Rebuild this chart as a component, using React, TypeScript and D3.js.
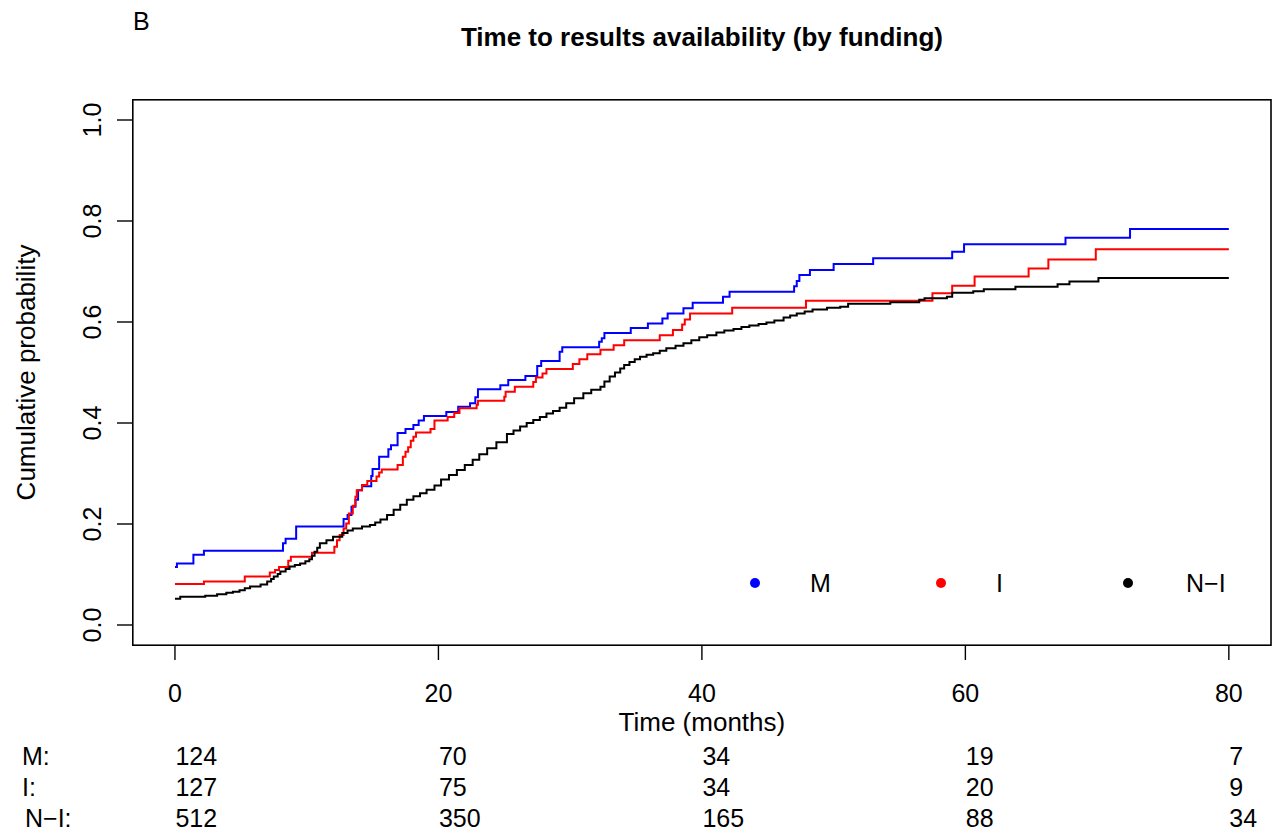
import React from 'react';
import * as d3 from 'd3';

// cumulative probability step curves
const mTimes = [0, 0.15, 1.4, 2.2, 8.2, 8.4, 9.2, 12.8, 13.1, 13.4, 13.7, 13.9, 14.2, 14.9, 15.0, 15.5, 16.2, 16.4, 16.9, 17.5, 18.1, 18.5, 18.9, 20.6, 21.5, 22.4, 22.8, 23.0, 24.7, 25.3, 26.6, 27.5, 27.8, 29.2, 29.4, 32.2, 32.4, 32.6, 34.6, 35.9, 37.0, 37.4, 38.6, 39.3, 41.6, 42.1, 47.0, 47.2, 47.4, 48.2, 50.0, 53.0, 59.0, 59.9, 67.6, 72.5, 80];
const mValues = [0.115, 0.122, 0.139, 0.147, 0.162, 0.171, 0.195, 0.21, 0.218, 0.234, 0.248, 0.267, 0.275, 0.295, 0.309, 0.333, 0.348, 0.356, 0.38, 0.388, 0.396, 0.405, 0.414, 0.422, 0.432, 0.439, 0.451, 0.467, 0.475, 0.485, 0.493, 0.513, 0.523, 0.541, 0.55, 0.561, 0.568, 0.578, 0.588, 0.597, 0.607, 0.617, 0.627, 0.638, 0.65, 0.66, 0.671, 0.681, 0.693, 0.703, 0.715, 0.726, 0.739, 0.754, 0.767, 0.784, 0.784];

const iTimes = [0, 2.2, 5.3, 7.2, 7.6, 7.9, 8.6, 8.8, 10.4, 12.1, 12.3, 12.5, 12.8, 13.0, 13.2, 13.5, 13.7, 13.8, 14.2, 14.6, 15.3, 15.5, 15.7, 16.9, 17.3, 17.5, 17.7, 17.9, 18.1, 18.3, 19.4, 19.7, 20.7, 21.2, 21.6, 22.9, 23.0, 25.0, 25.1, 25.8, 27.2, 27.4, 27.9, 28.2, 30.2, 30.7, 31.3, 32.3, 33.3, 34.1, 36.8, 37.8, 38.5, 38.7, 39.1, 42.3, 47.9, 57.5, 59.0, 60.7, 64.8, 66.3, 69.9, 80];
const iValues = [0.081, 0.086, 0.096, 0.104, 0.109, 0.115, 0.127, 0.135, 0.143, 0.155, 0.168, 0.178, 0.191, 0.201, 0.221, 0.236, 0.254, 0.267, 0.277, 0.285, 0.294, 0.302, 0.308, 0.317, 0.333, 0.343, 0.352, 0.365, 0.373, 0.381, 0.388, 0.405, 0.412, 0.42, 0.429, 0.436, 0.444, 0.452, 0.462, 0.472, 0.481, 0.49, 0.498, 0.507, 0.517, 0.526, 0.536, 0.545, 0.554, 0.564, 0.574, 0.584, 0.595, 0.605, 0.617, 0.628, 0.642, 0.657, 0.672, 0.69, 0.706, 0.724, 0.744, 0.744];

const niTimes = [0, 0.4, 2.3, 3.2, 3.9, 4.4, 4.9, 5.3, 5.7, 6.5, 7.0, 7.3, 7.5, 7.8, 8.0, 8.4, 8.7, 9.1, 9.5, 9.9, 10.2, 10.4, 10.6, 10.8, 11.0, 11.5, 12.0, 12.7, 13.1, 13.5, 14.2, 14.8, 15.2, 15.6, 16.1, 16.6, 17.1, 17.6, 18.1, 18.6, 19.1, 19.7, 20.2, 20.8, 21.4, 22.0, 22.6, 23.1, 23.7, 24.4, 25.2, 25.7, 26.2, 26.7, 27.2, 27.7, 28.2, 28.7, 29.2, 29.7, 30.3, 31.0, 31.6, 32.3, 32.6, 33.0, 33.4, 33.8, 34.1, 34.5, 34.9, 35.3, 35.8, 36.3, 36.8, 37.3, 38.0, 38.6, 39.2, 39.8, 40.4, 41.1, 41.7, 42.4, 43.0, 43.6, 44.3, 44.9, 45.5, 46.2, 46.7, 47.2, 47.8, 48.4, 49.5, 50.5, 51.1, 54.3, 56.5, 56.9, 58.6, 59.0, 60.6, 61.4, 63.8, 67.0, 67.9, 70.1, 80];
const niValues = [0.052, 0.056, 0.058, 0.061, 0.064, 0.066, 0.069, 0.073, 0.076, 0.08, 0.086, 0.091, 0.096, 0.101, 0.106, 0.111, 0.116, 0.119, 0.122, 0.126, 0.13, 0.137, 0.145, 0.153, 0.162, 0.168, 0.175, 0.182, 0.187, 0.191, 0.195, 0.198, 0.203, 0.209, 0.218, 0.228, 0.238, 0.248, 0.255, 0.261, 0.268, 0.276, 0.288, 0.297, 0.307, 0.317, 0.327, 0.338, 0.35, 0.362, 0.378, 0.385, 0.393, 0.4, 0.406, 0.412, 0.419, 0.424, 0.43, 0.439, 0.449, 0.459, 0.466, 0.472, 0.482, 0.492, 0.5, 0.508, 0.515, 0.521, 0.526, 0.531, 0.535, 0.538, 0.543, 0.548, 0.553, 0.558, 0.564, 0.57, 0.574, 0.579, 0.583, 0.586, 0.59, 0.593, 0.596, 0.599, 0.603, 0.609, 0.613, 0.617, 0.621, 0.625, 0.628, 0.63, 0.636, 0.639, 0.644, 0.647, 0.65, 0.658, 0.661, 0.665, 0.67, 0.675, 0.68, 0.687, 0.687];

const groupLabels = ['M', 'I', 'N\u2212I'];
const groupColors = ['#0000ff', '#ff0000', '#000000'];
const xTicks = [0, 20, 40, 60, 80];
const yTicks = [0, 0.2, 0.4, 0.6, 0.8, 1.0];
const riskM = [124, 70, 34, 19, 7];
const riskI = [127, 75, 34, 20, 9];
const riskNI = [512, 350, 165, 88, 34];

const W = 1278;
const H = 832;
const font = '"Liberation Sans", Arial, Helvetica, sans-serif';

const App = () => {
    // R-style 4% axis extension
    const x = d3.scaleLinear().domain([-3.2, 83.2]).range([132.8, 1271]);
    const y = d3.scaleLinear().domain([-0.04, 1.04]).range([645.2, 99.8]);

    const line = d3
        .line<[number, number]>()
        .x((d) => x(d[0]))
        .y((d) => y(d[1]))
        .curve(d3.curveStepAfter);

    const series = [
        d3.zip(mTimes, mValues) as [number, number][],
        d3.zip(iTimes, iValues) as [number, number][],
        d3.zip(niTimes, niValues) as [number, number][],
    ];
    const riskRows = [riskM, riskI, riskNI];
    const rowLabelX = [22, 22, 25];
    const rowBase = [765, 796, 827];

    const legendDotX = [755, 941, 1128];
    const legendTextX = [810, 996, 1186];

    return (
        <svg width={W} height={H} style={{ position: 'absolute', left: 0, top: 0 }} fontFamily={font}>
            <rect width={W} height={H} fill="#fff" />
            <text x={133} y={30} fontSize={25}>B</text>
            <text x={(132.8 + 1271) / 2} y={46} fontSize={26} fontWeight="bold" textAnchor="middle">
                Time to results availability (by funding)
            </text>

            {series.map((s, i) => (
                <path key={i} d={line(s) || ''} fill="none" stroke={groupColors[i]} strokeWidth={2} />
            ))}

            <rect x={132.8} y={99.8} width={1271 - 132.8} height={645.2 - 99.8} fill="none" stroke="#000" strokeWidth={1.6} />

            {xTicks.map((t) => (
                <g key={t}>
                    <line x1={x(t)} x2={x(t)} y1={645.2} y2={660} stroke="#000" strokeWidth={1.4} />
                    <text x={x(t)} y={702} fontSize={25} textAnchor="middle">{t}</text>
                </g>
            ))}
            {yTicks.map((t) => (
                <g key={t}>
                    <line x1={132.8} x2={117} y1={y(t)} y2={y(t)} stroke="#000" strokeWidth={1.4} />
                    <text transform={`translate(101,${y(t)}) rotate(-90)`} fontSize={25} textAnchor="middle">
                        {t.toFixed(1)}
                    </text>
                </g>
            ))}

            <text x={(132.8 + 1271) / 2} y={731} fontSize={26} textAnchor="middle">Time (months)</text>
            <text transform={`translate(35,${(99.8 + 645.2) / 2}) rotate(-90)`} fontSize={26} textAnchor="middle">
                Cumulative probability
            </text>

            {groupLabels.map((g, i) => (
                <g key={g}>
                    <circle cx={legendDotX[i]} cy={583} r={5} fill={groupColors[i]} />
                    <text x={legendTextX[i]} y={592} fontSize={25}>{g}</text>
                </g>
            ))}

            {riskRows.map((row, r) => (
                <g key={r}>
                    <text x={rowLabelX[r]} y={rowBase[r]} fontSize={25}>{groupLabels[r]}:</text>
                    {row.map((v, k) => (
                        <text key={k} x={x(xTicks[k]) + 0.5} y={rowBase[r]} fontSize={25}>{v}</text>
                    ))}
                </g>
            ))}
        </svg>
    );
};

export default App;
